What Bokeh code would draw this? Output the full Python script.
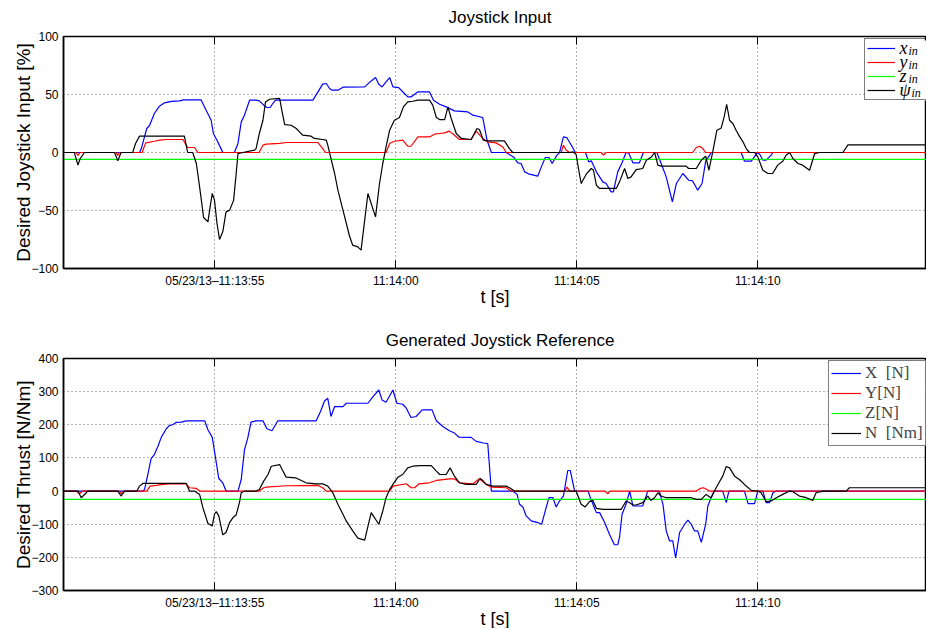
import math
from bokeh.plotting import figure
from bokeh.models import FixedTicker, LinearAxis, Label, Legend, LegendItem, Range1d, BoxAnnotation
from bokeh.layouts import column
from bokeh.embed import file_html
from bokeh.resources import INLINE

# Time in seconds after 11:13:50 (05/23/13)
T_START, T_END = 0.82, 24.66
TIME_TICKS = [5, 10, 15, 20]
TIME_LABELS = ["05/23/13\u201311:13:55", "11:14:00", "11:14:05", "11:14:10"]

# ---- Joystick input [%] ----
xin_t = [0.82, 2.92, 2.97, 3.12, 3.20, 3.33, 3.47, 3.61, 3.80, 4.02, 4.14, 4.62, 4.76, 4.90, 4.96,
         5.08, 5.20, 5.22, 5.54, 5.64, 5.73, 5.82, 5.96, 6.14, 6.23, 6.35, 6.44, 6.53, 6.60, 6.68,
         7.71, 7.85, 7.98, 8.08, 8.17, 8.24, 8.40, 8.54, 9.14, 9.32, 9.44, 9.53, 9.62, 9.73, 9.83,
         9.92, 10.08, 10.21, 10.33, 10.42, 10.61, 10.93, 11.04, 11.21, 11.39, 11.62, 11.99, 12.13,
         12.40, 12.52, 12.64, 13.05, 13.25, 13.37, 13.46, 13.56, 13.69, 13.92, 14.02, 14.13, 14.23,
         14.32, 14.45, 14.52, 14.63, 14.72, 14.85, 14.96, 15.24, 15.33, 15.40, 15.54, 15.72, 15.81,
         15.95, 16.01, 16.13, 16.25, 16.36, 16.43, 16.55, 16.73, 16.84, 17.21, 17.33, 17.47, 17.64,
         17.75, 17.93, 18.09, 18.20, 18.34, 18.46, 18.56, 18.67, 18.71, 19.54, 19.63, 19.82, 19.94,
         20.00, 20.07, 20.14, 20.23, 20.37, 20.41, 24.66]
xin = [0, 0, 3.4, 20.7, 23.5, 33.6, 39.9, 42.8, 44.0, 44.5, 45.4, 45.4, 36.5, 27.8, 16.4,
       9.2, 1.4, 0, 0, 7.8, 26.4, 32.2, 45.1, 45.1, 44.5, 40.8, 38.8, 38.8, 42.2, 45.1,
       45.1, 52.3, 58.9, 59.5, 55.2, 53.7, 53.7, 56.3, 56.6, 61.7, 64.6, 58.9, 56.6, 60.9, 64.6,
       56.6, 56.0, 51.7, 47.9, 47.9, 52.3, 52.3, 45.1, 41.6, 39.3, 35.9, 35.0, 32.2,
       30.2, 10.6, 0, 0, -3.8, -8.9, -9.5, -16.7, -18.7, -20.4, -12.4, -4.3, -4.3,
       -9.5, -2.3, -0.3, 13.4, 12.9, 6.3, 0, 0, -8.1, -7.2, -16.7, -25.3, -26.7,
       -33.9, -33.9, -16.7, -8.9, 0, -0.3, -8.9, -8.9, 0, 0, -9.5, -21.0, -42.6,
       -26.7, -18.1, -23.9, -24.5, -32.5, -26.7, -7.5, -2.3, 0, 0, -7.5, -7.5, -2.3,
       0, -2.3, -6.6, -6.6, -2.3, 0, 0]

yin_t = [0.82, 1.17, 1.22, 1.28, 2.27, 2.32, 2.37, 2.99, 3.09, 3.20, 3.33, 3.47, 3.66, 4.12, 4.21,
         4.25, 4.44, 4.53, 6.22, 6.33, 6.42, 6.79, 6.97, 7.85, 7.98, 8.06, 9.73, 9.83, 9.96, 10.19,
         10.33, 10.42, 10.61, 10.93, 11.07, 11.21, 11.35, 11.48, 11.62, 11.76, 12.08, 12.22, 12.40,
         12.54, 12.77, 12.96, 13.05, 14.57, 14.63, 14.71, 14.80, 15.67, 15.74, 15.81, 18.20, 18.30,
         18.39, 18.48, 18.56, 24.66]
yin = [0, 0, -2.5, 0, 0, -2.5, 0, 0, 8.3, 8.9, 9.7, 10.6, 11.2, 11.2, 6.3,
       4.3, 4.3, 0, 0, 6.3, 7.2, 7.8, 8.6, 8.6, 3.4, 0, 0, 7.8, 9.7, 10.6,
       5.4, 5.4, 13.4, 13.4, 15.8, 16.4, 16.9, 18.4, 14.9, 11.2, 11.2, 18.4, 12.1,
       9.2, 8.3, 4.8, 0, 0, 6.3, 2.0, 0, 0, -2.3, 0, 0, 4.3,
       5.4, 3.4, 0, 0]

zin_t = [T_START, T_END]
zin = [-6, -6]

psi_t = [0.82, 1.12, 1.22, 1.28, 1.40, 2.23, 2.32, 2.41, 2.73, 2.81, 2.92, 4.16, 4.25, 4.39, 4.49,
         4.58, 4.69, 4.81, 4.87, 4.93, 4.99, 5.06, 5.13, 5.22, 5.31, 5.41, 5.52, 5.59, 5.64, 5.77,
         6.10, 6.14, 6.23, 6.33, 6.40, 6.51, 6.79, 6.86, 6.93, 7.11, 7.25, 7.34, 7.43, 7.66, 7.75,
         7.98, 8.08, 8.12, 8.22, 8.31, 8.40, 8.54, 8.72, 8.81, 8.95, 9.04, 9.23, 9.44, 9.55, 9.64,
         9.73, 9.83, 9.96, 10.10, 10.21, 10.33, 10.47, 10.61, 10.93, 11.02, 11.12, 11.21, 11.35,
         11.44, 11.53, 11.67, 11.81, 12.08, 12.17, 12.24, 12.31, 12.42, 12.50, 13.00, 13.14, 13.23,
         14.80, 14.89, 14.98, 15.07, 15.12, 15.26, 15.40, 15.46, 15.54, 15.63, 16.09, 16.18, 16.32,
         16.41, 16.50, 16.64, 16.82, 16.92, 17.06, 17.15, 17.24, 17.33, 18.02, 18.09, 18.30, 18.44,
         18.56, 18.65, 18.76, 18.87, 18.99, 19.07, 19.14, 19.22, 19.31, 19.40, 19.49, 19.59, 19.68,
         19.77, 19.91, 20.00, 20.14, 20.28, 20.41, 20.55, 20.69, 20.78, 20.88, 20.97, 21.11, 21.24,
         21.43, 21.57, 21.70, 22.35, 22.49, 24.66]
psi = [0, 0, -10.9, -5.2, 0, 0, -7.2, 0, 0, 7.8, 14.1, 14.1, 0, 0, -9.5,
       -29.7, -56.0, -59.8, -46.9, -35.3, -41.1, -61.2, -75.0, -68.4, -51.2, -49.7, -41.1, -18.1, -0.9, 0,
       2.0, 3.4, 16.4, 27.8, 43.6, 45.9, 46.6, 35.0, 24.1, 23.5, 20.7, 17.8, 14.9, 14.1, 12.1,
       11.2, 10.6, 6.3, -6.6, -18.1, -32.5, -49.7, -72.0, -79.9, -81.3, -84.2, -35.3, -55.5, -26.7, -9.5,
       4.8, 19.2, 27.8, 30.2, 39.3, 43.6, 44.2, 45.1, 45.1, 40.8, 30.2, 28.4, 28.4,
       39.3, 29.3, 16.4, 12.1, 11.2, 16.4, 20.7, 19.8, 10.6, 10.0, 10.0, 3.4, 0,
       0, 0.6, -1.5, -18.1, -26.7, -18.7, -13.8, -15.3, -28.2, -31.0, -31.0, -25.3, -13.8,
       -22.4, -21.0, -14.7, -13.8, -6.6, -3.8, 0, -10.9, -11.8, -11.8, -13.8, -13.8, -6.6,
       -3.2, -15.3, 1.4, 19.2, 21.2, 30.7, 41.6, 27.8, 25.0, 19.2, 14.1, 9.2, 3.4,
       0, 0, -3.8, -15.3, -18.1, -18.1, -10.9, -7.5, -2.3, 0, -5.2, -9.5, -10.9,
       -15.3, -0.9, 0, 0, 6.6, 6.6]

# ---- Generated reference [N / Nm] ----
X_t = [0.82, 3.01, 3.06, 3.15, 3.24, 3.33, 3.43, 3.52, 3.66, 3.75, 3.84, 3.93, 4.07, 4.21, 4.72,
       4.81, 4.93, 5.02, 5.11, 5.22, 5.31, 5.64, 5.73, 5.82, 5.91, 6.00, 6.14, 6.33, 6.44, 6.58,
       6.74, 7.80, 7.92, 8.03, 8.12, 8.21, 8.31, 8.54, 8.63, 9.23, 9.37, 9.53, 9.62, 9.73, 9.92,
       10.03, 10.19, 10.29, 10.42, 10.56, 10.73, 11.00, 11.12, 11.30, 11.48, 11.62, 11.74, 12.08,
       12.22, 12.42, 12.54, 12.64, 13.23, 13.35, 13.42, 13.51, 13.60, 13.74, 13.92, 14.03, 14.14,
       14.23, 14.34, 14.43, 14.52, 14.63, 14.75, 14.82, 14.94, 15.31, 15.40, 15.54, 15.63, 15.77,
       15.90, 16.04, 16.13, 16.18, 16.25, 16.36, 16.46, 16.55, 16.82, 16.96, 17.28, 17.38, 17.47,
       17.56, 17.65, 17.73, 17.79, 17.84, 17.98, 18.07, 18.16, 18.25, 18.34, 18.44, 18.56, 18.62,
       18.71, 18.80, 19.03, 19.13, 19.20, 19.63, 19.73, 19.91, 20.00, 20.14, 20.23, 20.32, 20.42,
       20.51, 24.66]
X = [0, 0, 5, 50, 98, 110, 135, 162, 188, 198, 200, 207, 208, 212, 212,
     185, 162, 100, 38, 25, 0, 0, 35, 125, 160, 208, 212, 212, 188, 182,
     212, 212, 240, 272, 280, 225, 255, 255, 265, 265, 285, 305, 275, 268, 305,
     265, 262, 250, 222, 225, 245, 245, 212, 195, 182, 175, 163, 162,
     150, 145, 143, 0, 0, -10, -40, -48, -75, -90, -95, -100, -55,
     -20, -20, -48, -30, -15, 62, 62, 0, 0, -28, -65, -65, -95,
     -130, -162, -162, -140, -70, -40, 0, -45, -45, 0, 0, -40, -120,
     -150, -150, -202, -160, -125, -100, -88, -100, -120, -120, -155, -100, -45,
     -20, 0, 0, -35, 0, 0, -38, -38, 0, 0, -35, -35, -5,
     0, 0]

Y_t = [0.82, 1.17, 1.26, 1.35, 2.35, 2.41, 2.48, 3.12, 3.21, 3.38, 3.56, 3.75, 4.21, 4.30, 4.49,
       4.58, 6.23, 6.35, 6.42, 6.97, 7.85, 7.98, 8.08, 9.83, 9.92, 10.29, 10.42, 10.52, 10.64,
       10.93, 11.12, 11.48, 11.62, 11.76, 12.13, 12.31, 12.50, 12.64, 13.05, 13.19, 14.66, 14.73,
       14.80, 15.77, 15.86, 15.92, 18.30, 18.41, 18.50, 18.59, 18.67, 24.66]
Y = [0, 0, -8, 0, 0, -8, 0, 0, 15, 17, 20, 22, 22, 10, 8,
     0, 0, 10, 12, 16, 17, 10, 0, 0, 15, 22, 10, 10, 22,
     25, 32, 37, 37, 25, 22, 37, 20, 12, 10, 0, 0, 12,
     0, 0, -8, 0, 0, 8, 10, 5, 0, 0]

Z_t = [T_START, T_END]
Z = [-25, -25]

N_t = [0.82, 1.22, 1.31, 1.45, 1.49, 2.32, 2.41, 2.51, 2.85, 2.92, 3.01, 4.21, 4.30, 4.44, 4.58,
       4.67, 4.81, 4.93, 4.99, 5.04, 5.11, 5.22, 5.31, 5.41, 5.50, 5.59, 5.68, 5.73, 5.82, 6.14,
       6.23, 6.35, 6.47, 6.56, 6.79, 6.86, 6.97, 7.23, 7.39, 7.52, 7.80, 7.98, 8.12, 8.26, 8.40,
       8.54, 8.63, 8.81, 8.95, 9.14, 9.32, 9.53, 9.64, 9.73, 9.83, 9.92, 10.06, 10.19, 10.33,
       10.47, 10.66, 10.98, 11.12, 11.21, 11.39, 11.50, 11.62, 11.76, 11.94, 12.22, 12.33, 12.40,
       12.50, 12.68, 13.05, 13.14, 13.28, 14.98, 15.12, 15.23, 15.35, 15.44, 15.54, 15.72, 16.23,
       16.36, 16.46, 16.55, 16.64, 16.82, 16.96, 17.05, 17.15, 17.24, 17.33, 17.47, 18.16, 18.30,
       18.44, 18.57, 18.71, 18.80, 18.90, 19.03, 19.13, 19.22, 19.36, 19.49, 19.63, 19.82, 20.00,
       20.09, 20.23, 20.37, 20.51, 20.69, 20.88, 20.97, 21.15, 21.34, 21.52, 21.61, 21.80, 22.44,
       22.53, 24.66]
N = [0, 0, -20, -5, 0, 0, -15, 0, 0, 15, 23, 23, 0, 0, -10,
     -50, -98, -105, -70, -62, -75, -132, -125, -95, -80, -72, -35, -5, 0, 0,
     5, 30, 50, 75, 80, 65, 42, 40, 32, 25, 22, 22, 15, -5, -40,
     -70, -90, -120, -142, -148, -65, -100, -60, -20, 5, 20, 42, 50, 70,
     75, 77, 77, 60, 50, 50, 70, 45, 25, 20, 20, 38, 32,
     20, 15, 15, 10, 0, 0, -40, -48, -32, -28, -52, -55, -55,
     -30, -35, -42, -42, -35, -15, -28, -20, -5, -15, -20, -20, -25,
     -25, -10, -20, 0, 20, 45, 74, 70, 45, 35, 20, 2, 0,
     -5, -32, -30, -20, -10, 0, -2, -15, -20, -28, -5, 0, 0,
     10, 10]

# legend texts: main symbol + subscript for the input panel, plain for the thrust panel
INPUT_SYMBOLS = ["x", "y", "z", "\u03c8"]
INPUT_SUBSCRIPT = "in"
THRUST_NAMES = ["X  [N]", "Y[N]", "Z[N]", "N  [Nm]"]

BLUE, RED, GREEN, BLACK = "#0000ff", "#ff0000", "#00ff00", "#000000"
SANS = "Liberation Sans"
SERIF = "Liberation Serif"
FRAME_W, FRAME_H = 863, 232


def make_panel(title, y_range, y_ticks, y_label, top_border, bottom_border, title_gap):
    p = figure(frame_width=FRAME_W, frame_height=FRAME_H, x_range=Range1d(T_START, T_END),
               y_range=Range1d(*y_range), output_backend="svg", toolbar_location=None,
               min_border_left=51, min_border_right=0, min_border_top=top_border,
               min_border_bottom=bottom_border, margin=(0, 0, 0, 7),
               background_fill_color="white", border_fill_color="white")
    p.outline_line_color = "black"
    p.outline_line_width = 1.5

    xa = p.xaxis[0]
    xa.ticker = FixedTicker(ticks=TIME_TICKS)
    xa.major_label_overrides = dict(zip(TIME_TICKS, TIME_LABELS))
    xa.axis_label = "t [s]"
    xa.axis_label_text_font = SANS
    xa.axis_label_text_font_size = "18px"
    xa.axis_label_text_font_style = "normal"
    xa.axis_label_text_color = "black"
    xa.axis_label_standoff = -4
    ya = p.yaxis[0]
    ya.ticker = FixedTicker(ticks=y_ticks)
    ya.major_label_overrides = {v: (str(v) if v >= 0 else "\u2212" + str(-v)) for v in y_ticks}
    for ax in (xa, ya):
        ax.major_label_text_font = SANS
        ax.major_label_text_font_size = "12px"
        ax.major_label_text_color = "black"
        ax.axis_line_color = "black"
        ax.axis_line_width = 1.5
        ax.major_tick_in = 8
        ax.major_tick_out = 0
        ax.major_tick_line_color = "black"
        ax.minor_tick_line_color = None
    xa.major_label_standoff = 5
    ya.major_tick_in = 0
    ya.major_label_standoff = 5

    # inward tick marks along the top edge
    top = LinearAxis(ticker=FixedTicker(ticks=TIME_TICKS),
                     major_label_overrides={t: "" for t in TIME_TICKS},
                     major_tick_in=8, major_tick_out=0, minor_tick_line_color=None,
                     axis_line_color=None, major_label_standoff=0)
    p.add_layout(top, "above")

    for g in (p.xgrid[0], p.ygrid[0]):
        g.grid_line_color = "#666666"
        g.grid_line_dash = "1 3"
        g.grid_line_width = 1
    p.xgrid[0].ticker = FixedTicker(ticks=TIME_TICKS)
    p.ygrid[0].ticker = FixedTicker(ticks=y_ticks)

    # panel title, above the frame
    p.add_layout(Label(x=(T_START + T_END) / 2, y=y_range[1], x_offset=5, y_offset=title_gap,
                       text=title, text_align="center", text_baseline="middle",
                       text_font=SANS, text_font_size="17px", text_color="black"), "above")
    # y-axis title, to the left of the tick labels
    p.add_layout(Label(x=T_START, y=(y_range[0] + y_range[1]) / 2, x_offset=-40,
                       text=y_label, angle=math.pi / 2, text_align="center",
                       text_baseline="alphabetic", text_font=SANS, text_font_size="19px",
                       text_color="black"), "left")
    return p


# ---------------- top panel ----------------
p1 = make_panel("Joystick Input", (-100, 100), [-100, -50, 0, 50, 100],
                "Desired Joystick Input [%]", 36, 46, 19)
r_x = p1.line(xin_t, xin, line_color=BLUE, line_width=1.2)
r_y = p1.line(yin_t, yin, line_color=RED, line_width=1.2)
r_z = p1.line(zin_t, zin, line_color=GREEN, line_width=1.2)
r_p = p1.line(psi_t, psi, line_color=BLACK, line_width=1.2)

# legend box: left edge / bottom edge in pixels from the frame's left / bottom
LEG1_X, LEG1_Y, LEG1_ROW, LEG1_PAD = 801, 168, 14, 2
leg1_h = 2 * LEG1_PAD + 4 * LEG1_ROW
sec_per_px = (T_END - T_START) / FRAME_W
pct_per_px = 200.0 / FRAME_H
# white patch behind the legend (hides the grid there; the legend itself is transparent)
p1.add_layout(BoxAnnotation(left=T_START + LEG1_X * sec_per_px, right=T_END,
                            bottom=-100 + LEG1_Y * pct_per_px,
                            top=-100 + (LEG1_Y + leg1_h) * pct_per_px,
                            fill_color="white", fill_alpha=1.0, line_color=None,
                            level="underlay"))
leg1 = Legend(items=[LegendItem(label="", renderers=[r]) for r in (r_x, r_y, r_z, r_p)],
              location=(LEG1_X, LEG1_Y))
leg1.label_text_font_size = "10px"
leg1.glyph_width = 28
leg1.glyph_height = LEG1_ROW
leg1.label_height = LEG1_ROW
leg1.label_width = 45
leg1.label_standoff = 3
leg1.spacing = 0
leg1.padding = LEG1_PAD
leg1.background_fill_alpha = 0.0
leg1.border_line_color = "black"
leg1.border_line_width = 1.5
p1.add_layout(leg1)
for i, sym in enumerate(INPUT_SYMBOLS):
    base = -11 - LEG1_ROW * i
    p1.add_layout(Label(x=T_START, y=100, x_offset=836, y_offset=base, text=sym,
                        text_font=SERIF, text_font_style="italic", text_font_size="18px",
                        text_baseline="alphabetic", text_color="black", level="overlay"))
    p1.add_layout(Label(x=T_START, y=100, x_offset=845 if sym != "\u03c8" else 848,
                        y_offset=base - 3, text=INPUT_SUBSCRIPT,
                        text_font=SERIF, text_font_style="italic", text_font_size="12px",
                        text_baseline="alphabetic", text_color="black", level="overlay"))

# ---------------- bottom panel ----------------
p2 = make_panel("Generated Joystick Reference", (-300, 400),
                [-300, -200, -100, 0, 100, 200, 300, 400],
                "Desired Thrust [N/Nm]", 44, 38, 18)
r_X = p2.line(X_t, X, line_color=BLUE, line_width=1.2)
r_Y = p2.line(Y_t, Y, line_color=RED, line_width=1.2)
r_Z = p2.line(Z_t, Z, line_color=GREEN, line_width=1.2)
r_N = p2.line(N_t, N, line_color=BLACK, line_width=1.2)
leg2 = Legend(items=[LegendItem(label=name, renderers=[r])
                     for name, r in zip(THRUST_NAMES, (r_X, r_Y, r_Z, r_N))],
              location=(765, 144))
leg2.label_text_font = SERIF
leg2.label_text_font_size = "17px"
leg2.glyph_width = 30
leg2.glyph_height = 20
leg2.label_height = 20
leg2.label_width = 55
leg2.label_standoff = 4
leg2.spacing = 0
leg2.padding = 2
leg2.border_line_color = "black"
leg2.border_line_width = 1.5
p2.add_layout(leg2)

layout = column(p1, p2, spacing=0)
open("out.html", "w").write(file_html(layout, INLINE))
